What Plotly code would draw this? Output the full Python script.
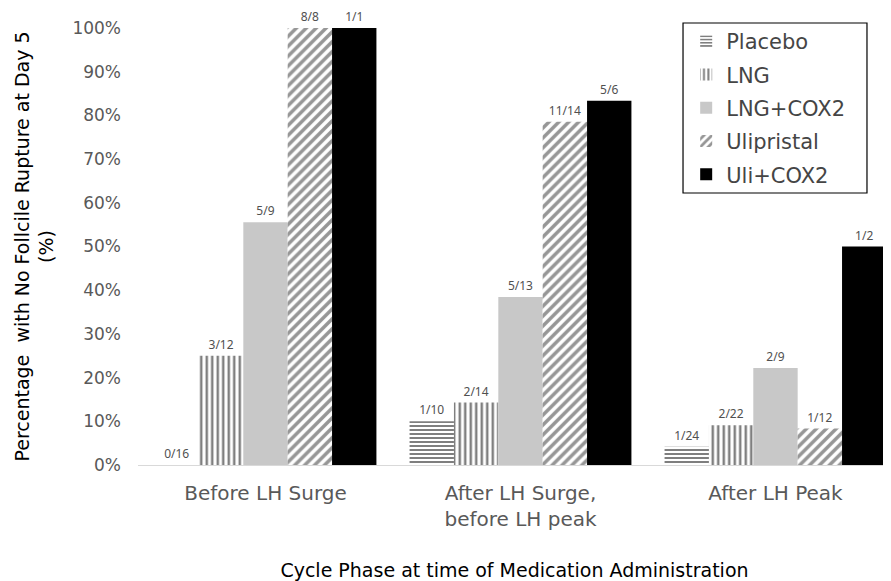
import plotly.graph_objects as go

categories = ["Before LH Surge", "After LH Surge,<br>before LH peak", "After LH Peak"]
series_names = ["Placebo", "LNG", "LNG+COX2", "Ulipristal", "Uli+COX2"]
placebo = [0.0, 0.10, 0.0417]
lng = [0.25, 0.1429, 0.0909]
lng_cox2 = [0.5556, 0.3846, 0.2222]
ulipristal = [1.0, 0.7857, 0.0833]
uli_cox2 = [1.0, 0.8333, 0.50]
placebo_lbl = ["0/16", "1/10", "1/24"]
lng_lbl = ["3/12", "2/14", "2/22"]
lng_cox2_lbl = ["5/9", "5/13", "2/9"]
ulipristal_lbl = ["8/8", "11/14", "1/12"]
uli_cox2_lbl = ["1/1", "5/6", "1/2"]
y_ticks = [0, 0.1, 0.2, 0.3, 0.4, 0.5, 0.6, 0.7, 0.8, 0.9, 1.0]
y_tick_text = ["0%", "10%", "20%", "30%", "40%", "50%", "60%", "70%", "80%", "90%", "100%"]

series = [
    (series_names[0], placebo, placebo_lbl, dict(color="white", pattern=dict(shape="-", fgcolor="black", bgcolor="white", size=4, solidity=0.5))),
    (series_names[1], lng, lng_lbl, dict(color="white", pattern=dict(shape="|", fgcolor="black", bgcolor="white", size=5.5, solidity=0.45))),
    (series_names[2], lng_cox2, lng_cox2_lbl, dict(color="#c8c8c8")),
    (series_names[3], ulipristal, ulipristal_lbl, dict(color="white", pattern=dict(shape="/", fgcolor="#2e2e2e", bgcolor="white", size=7, solidity=0.5))),
    (series_names[4], uli_cox2, uli_cox2_lbl, dict(color="black")),
]

FONT = "DejaVu Sans"

fig = go.Figure()
for i, (name, vals, lbls, marker) in enumerate(series):
    m = dict(marker)
    m["line"] = dict(width=0)
    fig.add_trace(go.Bar(
        name=name, x=categories, y=vals, marker=m,
        text=lbls, textposition="outside", cliponaxis=False,
        textfont=dict(family="Noto Sans", size=12, color="#505050"),
        legendgroup=name,
    ))

fig.update_layout(
    width=883, height=573,
    margin=dict(l=130, r=0, t=20, b=116),
    paper_bgcolor="white", plot_bgcolor="white",
    barmode="group", bargap=0.13, bargroupgap=0,
    font=dict(family=FONT, color="#595959"),
    showlegend=True,
    legend=dict(x=0.728, y=1.016, xanchor="left", yanchor="top",
                bgcolor="rgba(0,0,0,0)", borderwidth=0,
                font=dict(family=FONT, size=21, color="#454545"),
                tracegroupgap=3, itemwidth=30),
    shapes=[dict(type="rect", xref="paper", yref="paper", x0=0.7238, x1=0.9681, y0=0.6224, y1=1.0114,
                 line=dict(color="black", width=1.2), fillcolor="rgba(0,0,0,0)")],
)
fig.update_xaxes(range=[-0.5, 2.453], showgrid=False, showline=True, linecolor="#d9d9d9", linewidth=1,
                 ticks="", tickfont=dict(family=FONT, size=20, color="#595959"), automargin=False,
                 ticklabelstandoff=10,
                 title=dict(text="Cycle Phase at time of Medication Administration", font=dict(family=FONT, size=19, color="black"), standoff=44))
fig.update_yaxes(range=[0, 1.0], tickvals=y_ticks, ticktext=y_tick_text, showgrid=False, zeroline=False,
                 showline=False, ticks="", tickfont=dict(family=FONT, size=17, color="#595959"), ticklabelstandoff=16,
                 automargin=False,
                 title=dict(text="Percentage  with No Follcile Rupture at Day 5<br>(%)", font=dict(family=FONT, size=19, color="black"), standoff=13))

fig.write_html("out.html")
